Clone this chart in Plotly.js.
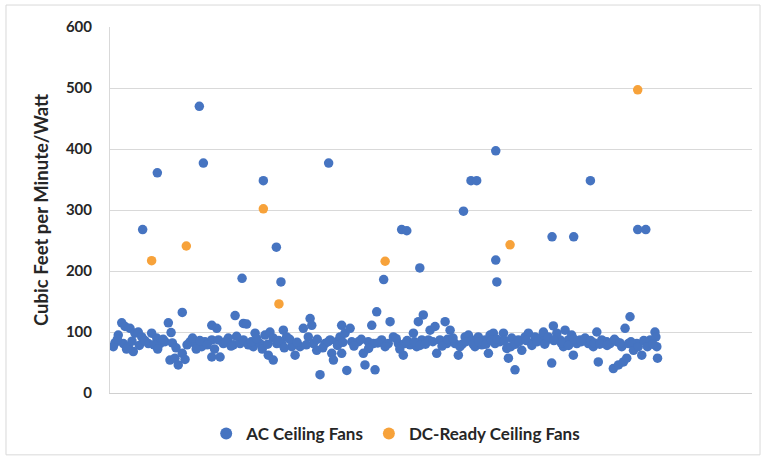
<!DOCTYPE html>
<html>
<head>
<meta charset="utf-8">
<script src="https://cdn.plot.ly/plotly-3.0.1.min.js"></script>
<style>
html,body{margin:0;padding:0;background:#fff;}
#chart{width:766px;height:461px;}
</style>
</head>
<body>
<div id="chart"></div>
<script>
// AC Ceiling Fans: fan index (x) and efficacy in CFM/W (y)
const acX = [
1.8,2.7,4.5,6.4,7.3,8.2,10.0,10.9,12.7,13.6,15.4,17.3,20.9,22.7,25.5,27.3,30.0,31.8,33.3,39.4,
32.7,35.4,37.2,39.4,40.9,43.6,46.3,50.0,51.8,55.5,58.2,55.5,59.1,61.8,55.5,60.0,64.5,68.2,67.2,70.9,
72.7,74.5,72.7,75.4,79.1,78.1,81.8,84.5,87.2,89.0,86.3,89.0,90.9,94.5,96.3,93.6,99.1,100.9,103.6,105.4,
109.1,110.0,108.1,110.9,112.7,114.5,117.2,120.0,120.9,121.8,123.6,126.3,125.4,128.1,126.3,129.1,130.9,131.8,135.4,138.1,
139.0,140.8,142.7,145.4,144.5,143.6,148.1,151.7,152.7,154.5,157.2,159.9,160.8,163.6,165.4,167.2,168.1,170.8,170.0,173.6,
174.5,177.2,178.1,179.9,182.7,183.6,185.4,188.1,189.9,190.8,193.6,195.4,197.2,199.0,200.8,202.7,204.5,206.3,207.2,209.0,
209.9,212.6,214.5,216.3,217.2,219.0,220.8,218.5,222.6,224.5,226.3,228.1,229.9,231.7,234.5,236.3,238.1,240.8,241.7,243.6,
245.4,247.2,248.1,249.9,251.7,252.6,254.5,256.3,259.0,260.8,263.5,265.4,266.2,268.1,270.8,272.6,274.4,276.3,277.2,279.0,
279.9,280.8,281.7,282.6,283.5,285.4,287.2,289.9,292.6,294.5,297.1,298.1,298.5,297.6,
4,9,12,16,19,24,26,29,34,36,42,45,47,49,53,57,63,66,69,77,80,83,86,92,95,98,102,107,113,116,119,124,127,133,137,141,146,150,156,158,
162,166,169,172,176,181,184,187,192,194,198,201,205,208,211,215,221,223,227,230,233,237,239,242,246,250,253,257,262,264,267,271,275,278,284,288,291,293,296,
17.8,25.8,48.7,50.9,72.0,83.6,90.7,93.2,119.2,149.2,159.0,161.8,168.9,192.7,196.8,199.9,210.3,210.3,210.9,241.0,252.8,261.9,287.7,292.1
];
const acY = [
76,82,95,115,81,109,76,106,68,98,100,92,81,98,90,81,84,115,99,132,
54,57,46,65,55,84,81,76,84,111,106,87,87,81,59,59,90,127,79,81,
114,113,87,79,98,76,81,95,100,90,62,54,81,103,92,81,76,62,76,106,
122,111,92,81,70,30,81,87,65,54,84,111,92,98,65,37,106,84,84,65,
46,84,111,133,38,81,87,81,117,92,81,62,81,79,98,76,117,128,87,87,
103,109,65,87,117,81,103,81,62,76,92,95,87,76,92,79,87,65,95,98,
81,84,98,73,57,90,38,76,87,70,92,98,81,92,90,100,87,49,110,98,
87,76,103,87,95,62,81,87,90,81,76,100,51,87,84,81,40,84,46,76,
51,106,57,81,125,70,81,62,81,87,100,76,57,92,
88,72,85,78,86,79,72,88,82,74,79,90,72,86,79,72,84,77,93,84,89,72,80,86,74,88,83,79,88,74,84,78,83,77,88,73,82,76,89,72,
86,84,78,80,84,77,88,90,80,84,80,84,80,86,88,86,80,84,86,78,84,80,92,86,82,78,88,84,86,82,80,78,88,82,84,76,86,76,80,
268,361,470,377,188,348,239,182,377,186,268,266,205,298,348,348,397,218,182,256,256,348,268,268
];
// DC-Ready Ceiling Fans
const dcX = [22.7,41.6,83.6,92.1,150.0,218.1,287.7];
const dcY = [217,241,302,146,216,243,497];

const yTicks = [0,100,200,300,400,500,600];
const seriesNames = ["AC Ceiling Fans","DC-Ready Ceiling Fans"];

const FONT = "Lato, 'Open Sans', sans-serif";

const traces = [
  {x: acX, y: acY, name: seriesNames[0], type: 'scatter', mode: 'markers',
   marker: {color: '#4674C1', size: 9.5, line: {width: 0}}},
  {x: dcX, y: dcY, name: seriesNames[1], type: 'scatter', mode: 'markers',
   marker: {color: '#F7A23A', size: 9.5, line: {width: 0}}}
];

const layout = {
  width: 766, height: 461,
  margin: {l: 110, r: 14, t: 27, b: 68, autoexpand: false},
  paper_bgcolor: '#ffffff', plot_bgcolor: '#ffffff',
  showlegend: true,
  legend: {orientation: 'h', x: 0.445, xanchor: 'center', y: -0.112, yanchor: 'middle',
           font: {family: FONT, size: 17, color: '#262626', weight: 'bold'},
           itemsizing: 'constant', traceorder: 'normal', itemwidth: 30},
  xaxis: {range: [0, 350], showgrid: false, zeroline: false, showticklabels: false,
          ticks: '', showline: true, linecolor: '#D0D0D0', linewidth: 1, fixedrange: true},
  yaxis: {range: [0, 600], tickvals: yTicks, ticktext: yTicks.map(String),
          showgrid: true, gridcolor: '#D9D9D9', gridwidth: 1, zeroline: false,
          showline: true, linecolor: '#D9D9D9', linewidth: 1, ticks: '', ticklabelstandoff: 14,
          tickfont: {family: FONT, size: 15, color: '#262626', weight: 'bold'},
          title: {text: 'Cubic Feet per Minute/Watt', standoff: 12,
                  font: {family: FONT, size: 18.5, color: '#262626', weight: 'bold'}}},
  shapes: [
    {type: 'rect', xref: 'paper', yref: 'paper', x0: -0.162, x1: 1.0125, y0: -0.169, y1: 1.060,
     line: {color: '#D9D9D9', width: 1}, fillcolor: 'rgba(0,0,0,0)', layer: 'below'}
  ]
};

Plotly.newPlot('chart', traces, layout, {displayModeBar: false, staticPlot: true});
</script>
</body>
</html>
